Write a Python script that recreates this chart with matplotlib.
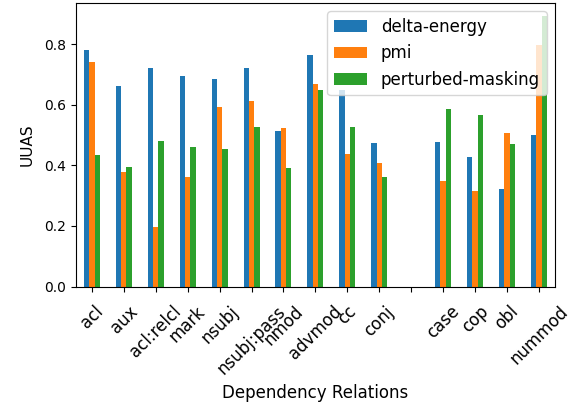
import numpy as np
import pandas as pd
import matplotlib
matplotlib.use('Agg')
import matplotlib.pyplot as plt

# UUAS per dependency relation for each method
relations = ['acl', 'aux', 'acl:relcl', 'mark', 'nsubj', 'nsubj:pass', 'nmod',
             'advmod', 'cc', 'conj', '', 'case', 'cop', 'obl', 'nummod']
delta_energy = [0.782, 0.663, 0.722, 0.695, 0.686, 0.722, 0.515,
                0.765, 0.650, 0.474, np.nan, 0.476, 0.428, 0.321, 0.500]
pmi = [0.740, 0.378, 0.198, 0.361, 0.594, 0.611, 0.525,
       0.670, 0.437, 0.407, np.nan, 0.347, 0.314, 0.506, 0.796]
perturbed_masking = [0.434, 0.396, 0.480, 0.460, 0.453, 0.526, 0.390,
                     0.650, 0.526, 0.363, np.nan, 0.587, 0.567, 0.471, 0.892]

df = pd.DataFrame({'delta-energy': delta_energy,
                   'pmi': pmi,
                   'perturbed-masking': perturbed_masking}, index=relations)

fig, ax = plt.subplots(figsize=(5.75, 4.07), dpi=100)
df.plot.bar(ax=ax)
plt.xticks(rotation=45, fontsize=12)
ax.tick_params(axis='x', pad=8)
plt.xlabel('Dependency Relations', fontsize=12)
plt.ylabel('UUAS', fontsize=11, labelpad=7)
plt.legend(fontsize=12, loc='upper right')
plt.subplots_adjust(left=0.132, right=0.965, top=0.993, bottom=0.296)
plt.savefig('out.png')
